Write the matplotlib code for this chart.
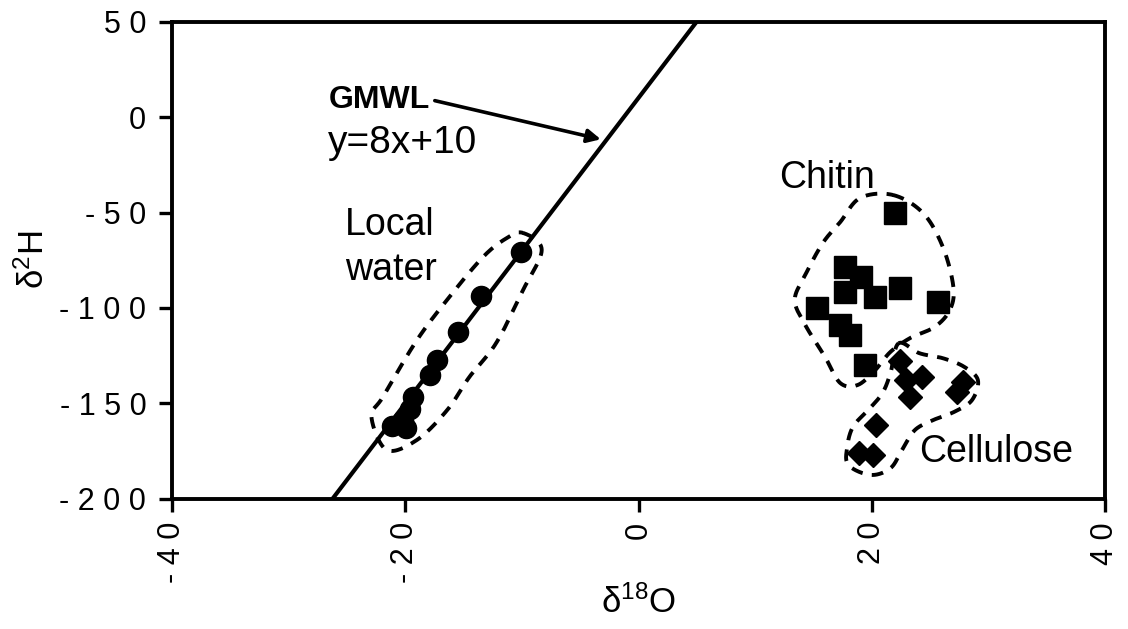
import numpy as np
import matplotlib.pyplot as plt

plt.rcParams['font.family'] = ['Liberation Sans', 'DejaVu Sans']
plt.rcParams['mathtext.fontset'] = 'custom'
plt.rcParams['mathtext.rm'] = 'Liberation Sans'
plt.rcParams['mathtext.it'] = 'Liberation Sans'
plt.rcParams['axes.unicode_minus'] = False

# isotope data: delta18O (x) vs delta2H (y)
water_d18o = [-10.1, -13.5, -15.5, -17.3, -17.9, -19.3, -19.6, -20.2, -21.1, -19.9]
water_d2h = [-70.5, -93.7, -112.4, -127, -135, -146.4, -153, -158.6, -162, -163]

chitin_d18o = [22.0, 17.7, 19.1, 17.7, 20.3, 22.4, 25.7, 15.3, 17.3, 18.1, 19.4]
chitin_d2h = [-50.4, -78.4, -83.6, -91.5, -94.1, -89.7, -96.7, -100.2, -108.9, -114.1, -129.8]

cellulose_d18o = [22.4, 22.9, 24.3, 23.3, 27.8, 27.3, 20.4, 18.9, 20.1]
cellulose_d2h = [-128, -137.5, -136, -146.4, -139, -144, -161.3, -176, -177]

x_ticks = [-40, -20, 0, 20, 40]
y_ticks = [-200, -150, -100, -50, 0, 50]

# global meteoric water line y = 8x + 10
gmwl_slope, gmwl_icept = 8, 10
gmwl_x = np.array([-40, 40])

# hand-drawn group outlines (x, y vertices, closed)
water_hull = [(-9.9, -60.7), (-8.3, -69.6), (-9.9, -90.6), (-12.2, -118.3), (-14.5, -136.1),
              (-16.4, -153.4), (-19.0, -169.1), (-21.6, -174.3), (-22.9, -156.9),
              (-21.9, -146.4), (-19.0, -116.8), (-16.2, -94.1), (-13.3, -73.1), (-11.3, -63.4)]
chitin_hull = [(21.8, -40.8), (24.4, -50.3), (26.1, -68.1), (27.0, -89.0), (26.7, -101.0),
               (25.4, -109.9), (23.3, -115.7), (21.6, -123.0), (20.3, -132.5), (18.8, -140.3),
               (17.3, -139.3), (16.0, -125.7), (14.3, -108.9), (13.4, -95.8), (14.3, -82.7),
               (15.8, -66.0), (17.3, -55.0), (19.0, -42.4)]
cellulose_hull = [(22.3, -118.5), (24.1, -123.7), (26.1, -126.3), (27.9, -130.7), (29.1, -137.7),
                  (28.6, -148.2), (27.1, -154.3), (25.3, -158.6), (23.7, -163.9), (22.6, -174.3),
                  (21.6, -183.9), (19.9, -187.4), (18.0, -182.2), (17.9, -172.6), (18.4, -162.1),
                  (19.7, -153.4), (20.9, -144.7), (21.6, -134.2)]


def smooth_loop(pts, n=30):
    # closed Catmull-Rom spline through the vertices
    p = np.array(pts, dtype=float)
    m = len(p)
    out = []
    for i in range(m):
        p0, p1, p2, p3 = p[i - 1], p[i], p[(i + 1) % m], p[(i + 2) % m]
        t = np.linspace(0, 1, n, endpoint=False)[:, None]
        seg = 0.5 * ((2 * p1) + (-p0 + p2) * t + (2 * p0 - 5 * p1 + 4 * p2 - p3) * t ** 2
                     + (-p0 + 3 * p1 - 3 * p2 + p3) * t ** 3)
        out.append(seg)
    out = np.vstack(out)
    return np.vstack([out, out[:1]])


def spaced(v):
    # wide-set tick label digits
    return ' '.join(str(v))


fig = plt.figure(figsize=(11.28, 6.29), dpi=100)
ax = fig.add_axes([0.1525, 0.2067, 0.8271, 0.7591])

ax.plot(gmwl_x, gmwl_slope * gmwl_x + gmwl_icept, color='black', lw=3.0, zorder=2)

for hull in (water_hull, chitin_hull, cellulose_hull):
    c = smooth_loop(hull)
    ax.plot(c[:, 0], c[:, 1], color='black', lw=2.8, dashes=(3.0, 2.4), zorder=1)

ax.plot(water_d18o, water_d2h, 'o', color='black', ms=14.5, zorder=3)
ax.plot(chitin_d18o, chitin_d2h, 's', color='black', ms=15.5, zorder=3)
ax.plot(cellulose_d18o, cellulose_d2h, 'D', color='black', ms=12, zorder=3)

ax.annotate('', xy=(-3.0, -12.0), xytext=(-17.7, 8.9),
            arrowprops=dict(arrowstyle='-|>', color='black', lw=2.6, mutation_scale=20))
ax.text(-26.6, 8.9, 'GMWL', fontsize=23, fontweight='bold', va='center', ha='left')
ax.text(-26.6, -13.5, 'y=8x+10', fontsize=28, va='center', ha='left')
ax.text(-25.2, -56.5, 'Local', fontsize=27, va='center', ha='left')
ax.text(-25.2, -80, 'water', fontsize=27, va='center', ha='left')
ax.text(12.1, -32, 'Chitin', fontsize=27, va='center', ha='left')
ax.text(24.1, -175.4, 'Cellulose', fontsize=27, va='center', ha='left')

ax.set_xlim(-40, 40)
ax.set_ylim(-200, 50)
ax.set_xticks(x_ticks)
ax.set_yticks(y_ticks)
ax.set_xticklabels([spaced(v) for v in x_ticks], rotation=90)
ax.set_yticklabels([spaced(v) for v in y_ticks])
ax.tick_params(axis='both', direction='out', length=9.5, width=2.4, labelsize=22)
ax.tick_params(axis='y', pad=9)
ax.tick_params(axis='x', pad=7)
for s in ax.spines.values():
    s.set_linewidth(2.8)

ax.set_xlabel('δ$^{18}$O', fontsize=25)
ax.set_ylabel('δ$^{2}$H', fontsize=25)
ax.xaxis.set_label_coords(0.5, -0.18)
ax.yaxis.set_label_coords(-0.13, 0.5)

fig.savefig('out.png', dpi=100)
